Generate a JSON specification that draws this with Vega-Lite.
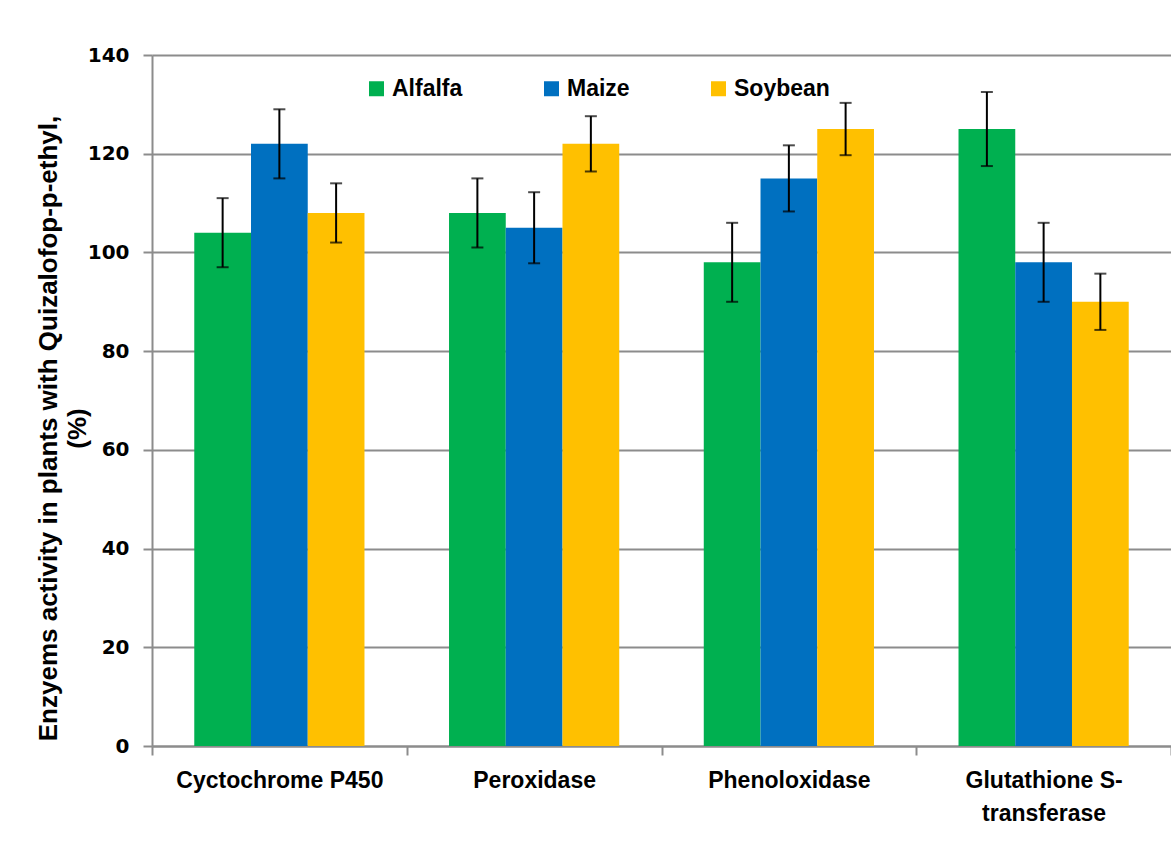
{
  "$schema": "https://vega.github.io/schema/vega-lite/v6.json",
  "width": 1019,
  "height": 691,
  "autosize": {"type": "none"},
  "padding": {"left": 152, "top": 55, "right": 0, "bottom": 99},
  "background": "white",
  "config": {
    "view": {"stroke": null},
    "font": "Liberation Sans"
  },
  "data": {
    "values": [
      {"enzyme": "Cyctochrome P450", "crop": "Alfalfa", "value": 104, "low": 97, "high": 111},
      {"enzyme": "Cyctochrome P450", "crop": "Maize", "value": 122, "low": 115, "high": 129},
      {"enzyme": "Cyctochrome P450", "crop": "Soybean", "value": 108, "low": 102, "high": 114},
      {"enzyme": "Peroxidase", "crop": "Alfalfa", "value": 108, "low": 101, "high": 115},
      {"enzyme": "Peroxidase", "crop": "Maize", "value": 105, "low": 97.8, "high": 112.2},
      {"enzyme": "Peroxidase", "crop": "Soybean", "value": 122, "low": 116.4, "high": 127.6},
      {"enzyme": "Phenoloxidase", "crop": "Alfalfa", "value": 98, "low": 90, "high": 106},
      {"enzyme": "Phenoloxidase", "crop": "Maize", "value": 115, "low": 108.3, "high": 121.7},
      {"enzyme": "Phenoloxidase", "crop": "Soybean", "value": 125, "low": 119.7, "high": 130.3},
      {"enzyme": "Glutathione S-transferase", "crop": "Alfalfa", "value": 125, "low": 117.5, "high": 132.5},
      {"enzyme": "Glutathione S-transferase", "crop": "Maize", "value": 98, "low": 90, "high": 106},
      {"enzyme": "Glutathione S-transferase", "crop": "Soybean", "value": 90, "low": 84.3, "high": 95.7}
    ]
  },
  "encoding": {
    "x": {
      "field": "enzyme",
      "type": "nominal",
      "sort": ["Cyctochrome P450", "Peroxidase", "Phenoloxidase", "Glutathione S-transferase"],
      "scale": {"paddingInner": 0, "paddingOuter": 0},
      "axis": {
        "title": null,
        "labelAngle": 0,
        "labelFont": "Liberation Sans",
        "labelFontWeight": "bold",
        "labelFontSize": 23,
        "labelColor": "black",
        "labelLineHeight": 33,
        "labelPadding": 14,
        "labelLimit": 400,
        "labelExpr": "datum.value == 'Glutathione S-transferase' ? ['Glutathione S-', 'transferase'] : datum.value",
        "tickBand": "extent",
        "tickSize": 9,
        "tickColor": "#8c8c8c",
        "tickWidth": 2,
        "domainColor": "#8c8c8c",
        "domainWidth": 2
      }
    },
    "xOffset": {
      "field": "crop",
      "type": "nominal",
      "sort": ["Alfalfa", "Maize", "Soybean"],
      "scale": {"paddingInner": 0, "paddingOuter": 0.745}
    }
  },
  "layer": [
    {
      "mark": {"type": "bar"},
      "encoding": {
        "y": {
          "field": "value",
          "type": "quantitative",
          "scale": {"domain": [0, 140], "nice": false},
          "axis": {
            "values": [0, 20, 40, 60, 80, 100, 120, 140],
            "title": ["Enzyems activity in plants with Quizalofop-p-ethyl,", "(%)"],
            "titleFont": "Liberation Sans",
            "titleFontWeight": "bold",
            "titleFontSize": 26,
            "titleColor": "black",
            "titleLineHeight": 29,
            "titleAngle": 270,
            "titleBaseline": "alphabetic",
            "titleAlign": "center",
            "titleX": -96,
            "titleY": 373,
            "labelFont": "DejaVu Sans",
            "labelFontWeight": "bold",
            "labelFontSize": 20,
            "labelColor": "black",
            "labelPadding": 14,
            "tickSize": 9,
            "tickColor": "#8c8c8c",
            "tickWidth": 2,
            "domainColor": "#8c8c8c",
            "domainWidth": 2,
            "grid": true,
            "gridColor": "#8c8c8c",
            "gridWidth": 2
          }
        },
        "color": {
          "field": "crop",
          "type": "nominal",
          "sort": ["Alfalfa", "Maize", "Soybean"],
          "scale": {"domain": ["Alfalfa", "Maize", "Soybean"], "range": ["#00B050", "#0070C0", "#FFC000"]},
          "legend": {
            "title": null,
            "orient": "none",
            "direction": "horizontal",
            "columns": 3,
            "legendX": 213,
            "legendY": 22,
            "symbolType": "square",
            "symbolSize": 225,
            "symbolStrokeWidth": 0,
            "symbolOpacity": 1,
            "labelFont": "Liberation Sans",
            "labelFontWeight": "bold",
            "labelFontSize": 23,
            "labelColor": "black",
            "labelOffset": 4,
            "columnPadding": 77
          }
        }
      }
    },
    {
      "mark": {"type": "rule", "color": "black", "strokeWidth": 2},
      "encoding": {
        "y": {"field": "low", "type": "quantitative"},
        "y2": {"field": "high"}
      }
    },
    {
      "mark": {"type": "tick", "color": "black", "thickness": 2, "size": 12},
      "encoding": {
        "y": {"field": "low", "type": "quantitative"}
      }
    },
    {
      "mark": {"type": "tick", "color": "black", "thickness": 2, "size": 12},
      "encoding": {
        "y": {"field": "high", "type": "quantitative"}
      }
    }
  ]
}
